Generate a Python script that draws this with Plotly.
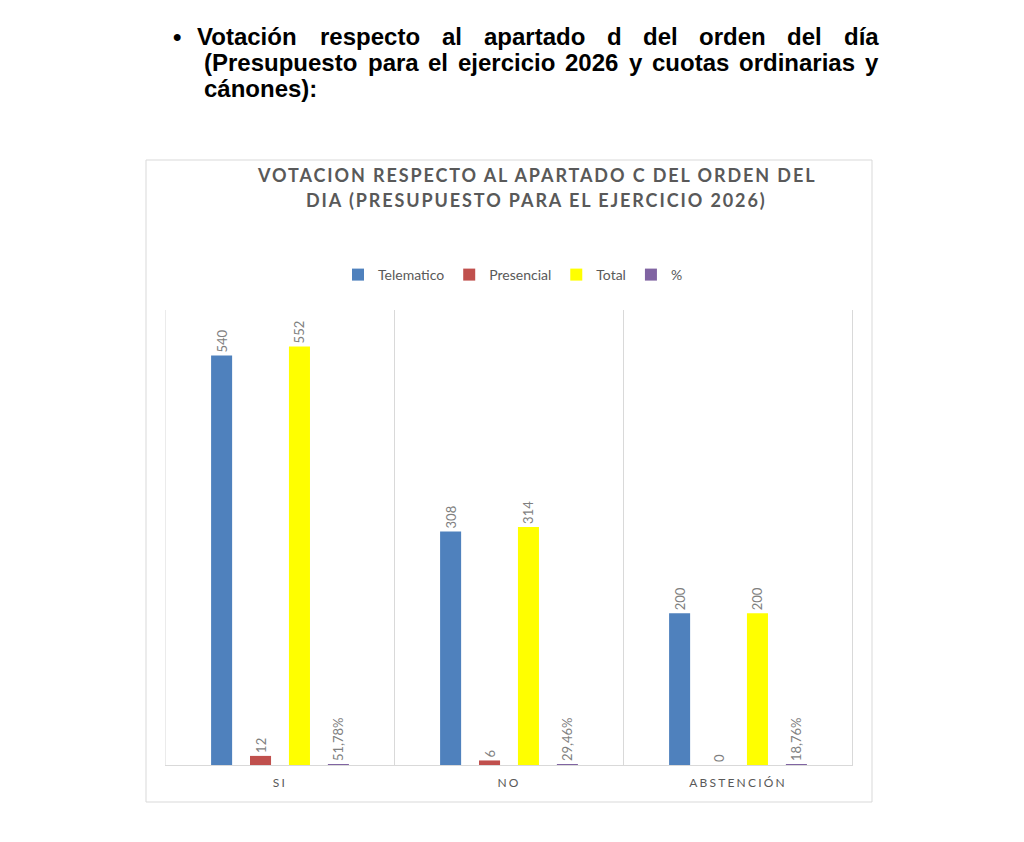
import plotly.graph_objects as go

categories = ["SI", "NO", "ABSTENCIÓN"]
telematico = [540, 308, 200]
presencial = [12, 6, 0]
total = [552, 314, 200]
porcentaje = [0.5178, 0.2946, 0.1876]

series_names = ["Telematico", "Presencial", "Total", "%"]
series_colors = ["#4F81BD", "#C0504D", "#FFFF00", "#8064A2"]

# the page body has an 8px margin; figure is sized so it fits the 1024x842 window
OFF = 8
W, H = 1024 - OFF * 2, 842 - OFF * 2


def px(x):
    return (x - OFF) / W


def py(y):
    return 1 - (y - OFF) / H


GRAY = "#595959"
FONT = "Lato, Open Sans, sans-serif"

fig = go.Figure()
for name, vals, col in zip(series_names, [telematico, presencial, total, porcentaje], series_colors):
    tmpl = "%{y:.2%}" if name == "%" else "%{y}"
    fig.add_trace(go.Bar(
        name=name, x=categories, y=vals, marker=dict(color=col, line=dict(width=0)),
        texttemplate=tmpl, textposition="outside", textangle=-90,
        textfont=dict(family=FONT, size=13, color="#7F7F7F"),
        constraintext="none", cliponaxis=False, hoverinfo="skip",
    ))

# header text (justified lines, word by word)
hdr_font = dict(family="Liberation Sans, Arial, sans-serif", size=24, color="#000000")
line1 = ["Votación", "respecto", "al", "apartado", "d", "del", "orden", "del", "día"]
line1_x = [195, 318, 440, 481.5, 604.5, 640.5, 697, 785, 841.5]
line2 = ["(Presupuesto", "para", "el", "ejercicio", "2026", "y", "cuotas", "ordinarias", "y"]
line2_x = [202, 365.5, 426, 456, 563, 626.5, 649.5, 736.5, 863]
annotations = []
for words, xs, yy in [(line1, line1_x, 36), (line2, line2_x, 62), (["cánones):"], [202], 88)]:
    for w_, x_ in zip(words, xs):
        annotations.append(dict(text="<b>%s</b>" % w_, x=px(x_), y=py(yy), xref="paper", yref="paper",
                                xanchor="left", yanchor="middle", showarrow=False, font=hdr_font))
annotations.append(dict(text="<b>•</b>", x=px(177), y=py(36), xref="paper", yref="paper",
                        xanchor="center", yanchor="middle", showarrow=False, font=hdr_font))

# chart title
title_lines = ["VOTACION RESPECTO AL APARTADO C DEL ORDEN DEL", "DIA (PRESUPUESTO PARA EL EJERCICIO 2026)"]
for t, yy in zip(title_lines, [175, 200]):
    annotations.append(dict(text="<b><span style='letter-spacing:1.9px'>%s</span></b>" % t,
                            x=px(536), y=py(yy), xref="paper", yref="paper",
                            xanchor="center", yanchor="middle", showarrow=False,
                            font=dict(family=FONT, size=18, color=GRAY)))

shapes = [
    dict(type="rect", xref="paper", yref="paper", x0=px(146), x1=px(872), y0=py(160), y1=py(802),
         line=dict(color="#D9D9D9", width=1), layer="below"),
]
for xb, lc in [(-0.5, "#EBEBEB"), (0.5, "#D9D9D9"), (1.5, "#D9D9D9"), (2.5, "#D9D9D9")]:
    shapes.append(dict(type="line", xref="x", yref="y", x0=xb, x1=xb, y0=0, y1=600,
                       line=dict(color=lc, width=1), layer="below"))

fig.update_layout(
    width=W, height=H, margin=dict(l=0, r=0, t=0, b=0),
    paper_bgcolor="white", plot_bgcolor="white",
    barmode="group", bargap=0.32, bargroupgap=0.46,
    separators=",.",
    showlegend=True,
    legend=dict(orientation="h", x=px(513), y=py(275), xanchor="center", yanchor="middle",
                font=dict(family=FONT, size=14, color=GRAY), itemwidth=30, traceorder="normal"),
    xaxis=dict(domain=[px(165), px(853)], showgrid=False, zeroline=False, showline=True,
               linecolor="#D9D9D9", linewidth=1, ticks="", ticklabelstandoff=7,
               tickmode="array", tickvals=categories,
               ticktext=["<span style='letter-spacing:2.2px'>%s</span>" % c for c in categories],
               tickfont=dict(family=FONT, size=12, color=GRAY)),
    yaxis=dict(domain=[py(765), py(310)], range=[0, 600], showgrid=False, zeroline=False,
               showticklabels=False, showline=False),
    annotations=annotations, shapes=shapes,
)

fig.write_html("out.html")
